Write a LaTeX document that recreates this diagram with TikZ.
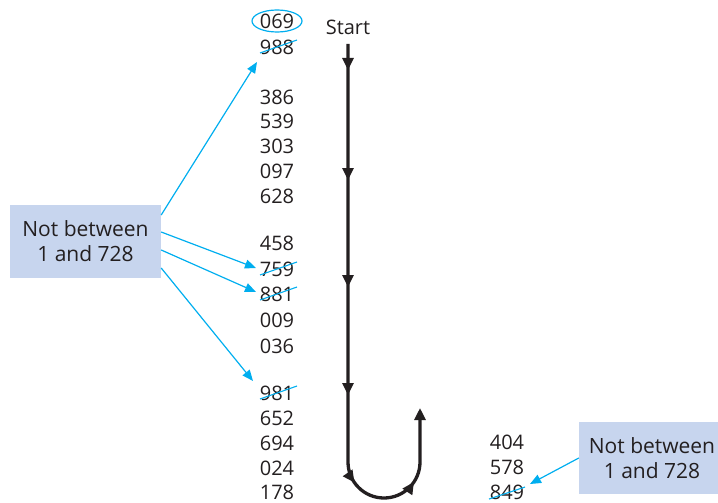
\documentclass[tikz,border=0pt]{standalone}
\usepackage{fontspec}
\setmainfont{Open Sans}
\usetikzlibrary{arrows.meta,decorations.markings,shapes.geometric,calc}
\definecolor{txt}{HTML}{231F20}
\definecolor{cy}{HTML}{00AEEF}
\definecolor{boxc}{HTML}{C7D5EE}
\begin{document}
\begin{tikzpicture}[x=1pt,y=-1pt,
  num/.style={font=\fontsize{20}{24}\selectfont, text=txt, inner sep=0pt},
  strike/.style={draw=cy, line width=1.1pt},
  carrow/.style={draw=cy, line width=1.2pt, -{Triangle[length=11pt,width=9pt]}},
  notebox/.style={fill=boxc, draw=none, align=center, text=txt, font=\fontsize{21}{25}\selectfont, inner sep=0pt},
]
\useasboundingbox (0,0) rectangle (718,503);

% left column
\node[num] (n069) at (277,21) {069};
\node[num] (n988) at (277,47) {988};
\node[num] (n386) at (277,97) {386};
\node[num] (n539) at (277,121) {539};
\node[num] (n303) at (277,146) {303};
\node[num] (n097) at (277,171) {097};
\node[num] (n628) at (277,196) {628};
\node[num] (n458) at (277,243) {458};
\node[num] (n759) at (277,269) {759};
\node[num] (n881) at (277,294) {881};
\node[num] (n009) at (277,320) {009};
\node[num] (n036) at (277,346) {036};
\node[num] (n981) at (277,393) {981};
\node[num] (n652) at (277,418) {652};
\node[num] (n694) at (277,443) {694};
\node[num] (n024) at (277,468) {024};
\node[num] (n178) at (277,492) {178};
% right column
\node[num] (n404) at (507,442) {404};
\node[num] (n578) at (507,467) {578};
\node[num] (n849) at (507,492) {849};

\node[num] (start) at (348,27) {Start};

% circle round 069
\node[draw=cy, line width=1.2pt, ellipse, minimum width=50pt, minimum height=22pt, inner sep=0pt] (e069) at (n069) {};

% strike-outs
\draw[strike] ($(n988)+(-17,6)$) -- ($(n988)+(20,-7)$);
\draw[strike] ($(n759)+(-17,6)$) -- ($(n759)+(20,-7)$);
\draw[strike] ($(n881)+(-17,6)$) -- ($(n881)+(20,-7)$);
\draw[strike] ($(n981)+(-17,6)$) -- ($(n981)+(20,-7)$);
\draw[strike] ($(n849)+(-18,7)$) -- ($(n849)+(18,-5)$);

% main flow
\coordinate (p0) at (348,44);
\coordinate (p1) at (348,462);
\coordinate (p3) at (420,408);
\draw[line width=3.3pt, draw=txt, -{Triangle[length=12pt,width=11pt]},
  decoration={markings,
    mark=at position 26pt with {\arrow{Triangle[length=12pt,width=11pt]}},
    mark=at position 136pt with {\arrow{Triangle[length=12pt,width=11pt]}},
    mark=at position 243pt with {\arrow{Triangle[length=12pt,width=11pt]}},
    mark=at position 351pt with {\arrow{Triangle[length=12pt,width=11pt]}},
    mark=at position 440pt with {\arrow{Triangle[length=12pt,width=11pt]}},
    mark=at position 510pt with {\arrow{Triangle[length=12pt,width=11pt]}}},
  postaction={decorate}]
  (p0) -- (p1) arc[start angle=180, end angle=0, radius=36] -- (p3);

% boxes
\node[notebox, minimum width=151pt, minimum height=73pt] (lb) at (85.5,241.5) {Not between\\1 and 728};
\node[notebox, minimum width=146pt, minimum height=72pt] (rb) at (652,458) {Not between\\1 and 728};

% cyan arrows
\draw[carrow] ([yshift=26.5pt]lb.east) -- ($(n988)+(-20,15)$);
\draw[carrow] ([yshift=9.5pt]lb.east) -- ($(n759)+(-21,-1)$);
\draw[carrow] ([yshift=-8.5pt]lb.east) -- ($(n881)+(-21,-2)$);
\draw[carrow] ([yshift=-26.5pt]lb.east) -- ($(n981)+(-24,-12)$);
\draw[carrow] (rb.west) -- ($(n849)+(23,-8)$);
\end{tikzpicture}
\end{document}
